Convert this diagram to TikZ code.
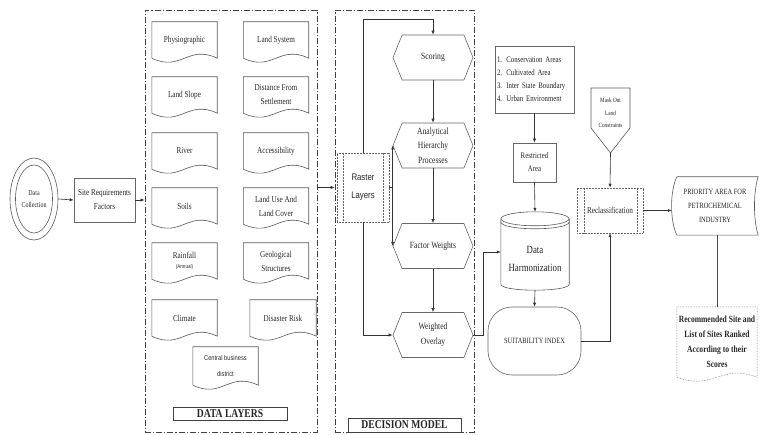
\documentclass[tikz,border=0pt]{standalone}
\usepackage{fontspec}
\setmainfont{Liberation Serif}[FakeStretch=0.8]
\newfontfamily\nsans{Liberation Sans}[FakeStretch=0.82]
\usetikzlibrary{arrows.meta,calc,shapes.symbols,shapes.geometric}
\newcommand\myfs[2]{\fontsize{#1}{#2}\selectfont}
\newcommand\docline[2][]{\draw[ln,#1] (#2.south west) -- (#2.north west) -- (#2.north east) -- (#2.south east)
  .. controls ($(#2.south east)!0.45!(#2.south west)+(0,-14)$) and ($(#2.south east)!0.55!(#2.south west)+(0,14)$) .. (#2.south west);}
\begin{document}
\begin{tikzpicture}[x=1pt,y=-1pt,
  every node/.style={text=black!85},
  ln/.style={draw=black!65, line width=0.6pt},
  arr/.style={draw=black!80, line width=0.6pt, -{Latex[length=4pt,width=3.2pt]}},
  frame/.style={draw=black!75, line width=0.7pt, dash pattern=on 6pt off 2pt on 1.2pt off 2pt},
  docbox/.style={minimum width=65pt, minimum height=36pt, inner sep=1pt, align=center, font=\myfs{9}{14}},
  hexa/.style={signal, signal to=east and west, signal pointer angle=136, draw=black!60, line width=0.6pt,
     minimum width=80pt, minimum height=45pt, inner sep=0pt, align=center, font=\myfs{9.5}{14.5}},
  predef/.style={draw=black!60, densely dotted, line width=0.5pt},
  plainbox/.style={draw=black!60, line width=0.6pt, inner sep=1pt, align=center}]
\useasboundingbox (0,0) rectangle (760,435);

% Data collection
\node[ellipse, ln, minimum width=48pt, minimum height=82pt, inner sep=0pt, align=center, font=\myfs{7.5}{12}] (dc) at (34,199) {Data\\Collection};
\draw[ln] (dc.center) ellipse [x radius=18.5pt, y radius=34pt];
\node[plainbox, minimum width=61pt, minimum height=44pt, font=\myfs{9}{14}] (srf) at (104.5,200) {Site Requirements\\Factors};
\draw[arr] (dc.east) -- (srf.west);

% Data layers frame
\node[frame, minimum width=172pt, minimum height=422pt] (dl) at (231,221) {};
\draw[arr] (srf.east) -- (srf.east -| dl.west);

\node[docbox] (phys) at (184.5,40) {Physiographic};
\node[docbox] (lsys) at (276,40) {Land System};
\node[docbox] (lslope) at (184.5,95) {Land Slope};
\node[docbox] (dist) at (276,95) {Distance From\\Settlement};
\node[docbox] (river) at (184.5,151) {River};
\node[docbox] (acc) at (276,151) {Accessibility};
\node[docbox] (soils) at (184.5,206) {Soils};
\node[docbox] (luse) at (276,206) {Land Use And\\Land Cover};
\node[docbox, font=\myfs{9}{10}] (rain) at (184.5,261) {Rainfall\\{\nsans\myfs{5.5}{7}(Annual)}};
\node[docbox] (geo) at (276,261) {Geological\\Structures};
\node[docbox] (clim) at (184.5,318) {Climate};
\node[docbox, minimum width=66pt] (dis) at (283,318) {Disaster Risk};
\node[docbox, minimum height=38pt, font=\nsans\myfs{7}{16}] (cbd) at (225.5,366) {Central business\\district};
\foreach \n in {phys,lsys,lslope,dist,river,acc,soils,luse,rain,geo,clim,dis,cbd} {\docline{\n}}
\node[draw=black!75, line width=0.7pt, minimum width=114pt, minimum height=13pt, inner sep=0pt, font=\bfseries\myfs{12}{12}] (dll) at (230,413.5) {DATA LAYERS};

% Decision model frame
\node[frame, minimum width=139pt, minimum height=422pt] (dm) at (404.5,221) {};
\node[draw=black!75, line width=0.7pt, minimum width=113pt, minimum height=14pt, inner sep=0pt, font=\bfseries\myfs{12}{12}] (dml) at (404.5,425) {DECISION MODEL};

\node[predef, minimum width=52pt, minimum height=69pt, inner sep=0pt, align=center, font=\nsans\myfs{9.5}{18}] (rl) at (363,187.5) {Raster\\Layers};
\draw[predef] ([xshift=6pt]rl.north west) -- ([xshift=6pt]rl.south west);
\draw[predef] ([xshift=-6pt]rl.north east) -- ([xshift=-6pt]rl.south east);
\draw[arr] (dl.east |- rl.west) -- (dm.west |- rl.west);

\node[hexa] (sc) at (433,57.5) {Scoring};
\node[hexa] (ahp) at (433,145.5) {Analytical\\Hierarchy\\Processes};
\node[hexa] (fw) at (433,246) {Factor Weights};
\node[hexa, font=\myfs{9.5}{15}] (wo) at (433,335) {Weighted\\Overlay};

\draw[arr] (rl.north) |- ($(sc.north)+(0,-15)$) -- (sc.north);
\draw[arr] (sc.south) -- (ahp.north);
\draw[arr] (ahp.south) -- (fw.north);
\draw[arr] (fw.south) -- (wo.north);
\coordinate (jn) at (ahp.west |- rl.east);
\draw[ln, draw=black!80] (rl.east) -- (jn);
\draw[arr] (jn) -- (ahp.west);
\draw[arr] (jn) -- (fw.west);
\draw[arr] (rl.south) |- (wo.west);

% Restrictions
\node[plainbox, minimum width=79pt, minimum height=67pt, text width=75pt, align=left, font=\myfs{8.5}{13}] (lst) at (534.5,79.5) {1. Conservation Areas\\2. Cultivated Area\\3. Inter State Boundary\\4. Urban Environment};
\node[plainbox, minimum width=43pt, minimum height=39pt, font=\myfs{8.5}{13}] (ra) at (534.5,162.5) {Restricted\\Area};
\draw[arr] (lst.south) -- (ra.north);

% Cylinder
\node[minimum width=68pt, minimum height=62pt, inner sep=0pt, align=center, font=\myfs{11}{18}] (dh) at (535,259) {Data\\Harmonization};
\draw[ln] ($(dh.north west)+(0,-9)$) -- ($(dh.south west)+(0,-6)$) .. controls +(0,8) and +(0,8) .. ($(dh.south east)+(0,-6)$) -- ($(dh.north east)+(0,-9)$);
\draw[ln] ($(dh.north)+(0,-9)$) ellipse [x radius=34pt, y radius=7pt];
\draw[ln] ($(dh.north west)+(0,-6)$) .. controls +(0,9.3) and +(0,9.3) .. ($(dh.north east)+(0,-6)$);
\coordinate (dhtop) at ($(dh.north)+(0,-16)$);
\draw[arr] (ra.south) -- (dhtop);
\draw[arr] (wo.east) -- ++(10,0) |- ($(dh.west)+(0,-7)$);

\node[plainbox, rounded corners=24pt, minimum width=93pt, minimum height=68pt, font=\myfs{8}{12}] (si) at (534.5,341) {SUITABILITY INDEX};
\draw[arr] (dh.south) -- (si.north);

% Mask out
\node[inner sep=0pt, align=center, font=\myfs{6.5}{12.5}] (mk) at (610.5,113) {Mask Out\\Land\\Constraints};
\draw[ln] ($(mk.center)+(-19.5,-25)$) -- ($(mk.center)+(19.5,-25)$) -- ($(mk.center)+(19.5,15)$) -- ($(mk.center)+(0,40)$) -- ($(mk.center)+(-19.5,15)$) -- cycle;
\coordinate (mktip) at ($(mk.center)+(0,40)$);

\node[predef, minimum width=66pt, minimum height=45pt, inner sep=0pt, font=\myfs{9}{12}] (rc) at (610,210.5) {Reclassification};
\draw[predef] ([xshift=7pt]rc.north west) -- ([xshift=7pt]rc.south west);
\draw[predef] ([xshift=-6pt]rc.north east) -- ([xshift=-6pt]rc.south east);
\draw[arr] (mktip) -- (rc.north);
\draw[arr] (si.east) -| (rc.south);

% Priority area
\node[minimum width=86pt, minimum height=58pt, inner sep=0pt, align=center, font=\myfs{8}{14}] (pa) at (715,206) {PRIORITY AREA FOR\\PETROCHEMICAL\\INDUSTRY};
\draw[ln] ($(pa.north west)+(5,0)$) -- (pa.north east) .. controls +(-5,15) and +(-5,-15) .. (pa.south east) -- ($(pa.south west)+(5,0)$) .. controls +(-7,-15) and +(-7,15) .. ($(pa.north west)+(5,0)$) -- cycle;
\draw[arr] (rc.east) -- (rc.east -| pa.west);

\node[minimum width=80pt, minimum height=70pt, inner sep=0pt, align=center, font=\bfseries\myfs{9.5}{15}] (rec) at (717,342) {Recommended Site and\\List of Sites Ranked\\According to their\\Scores};
\docline[predef]{rec}
\draw[ln, draw=black!70] (pa.south -| rec.north) -- (rec.north);
\end{tikzpicture}
\end{document}
